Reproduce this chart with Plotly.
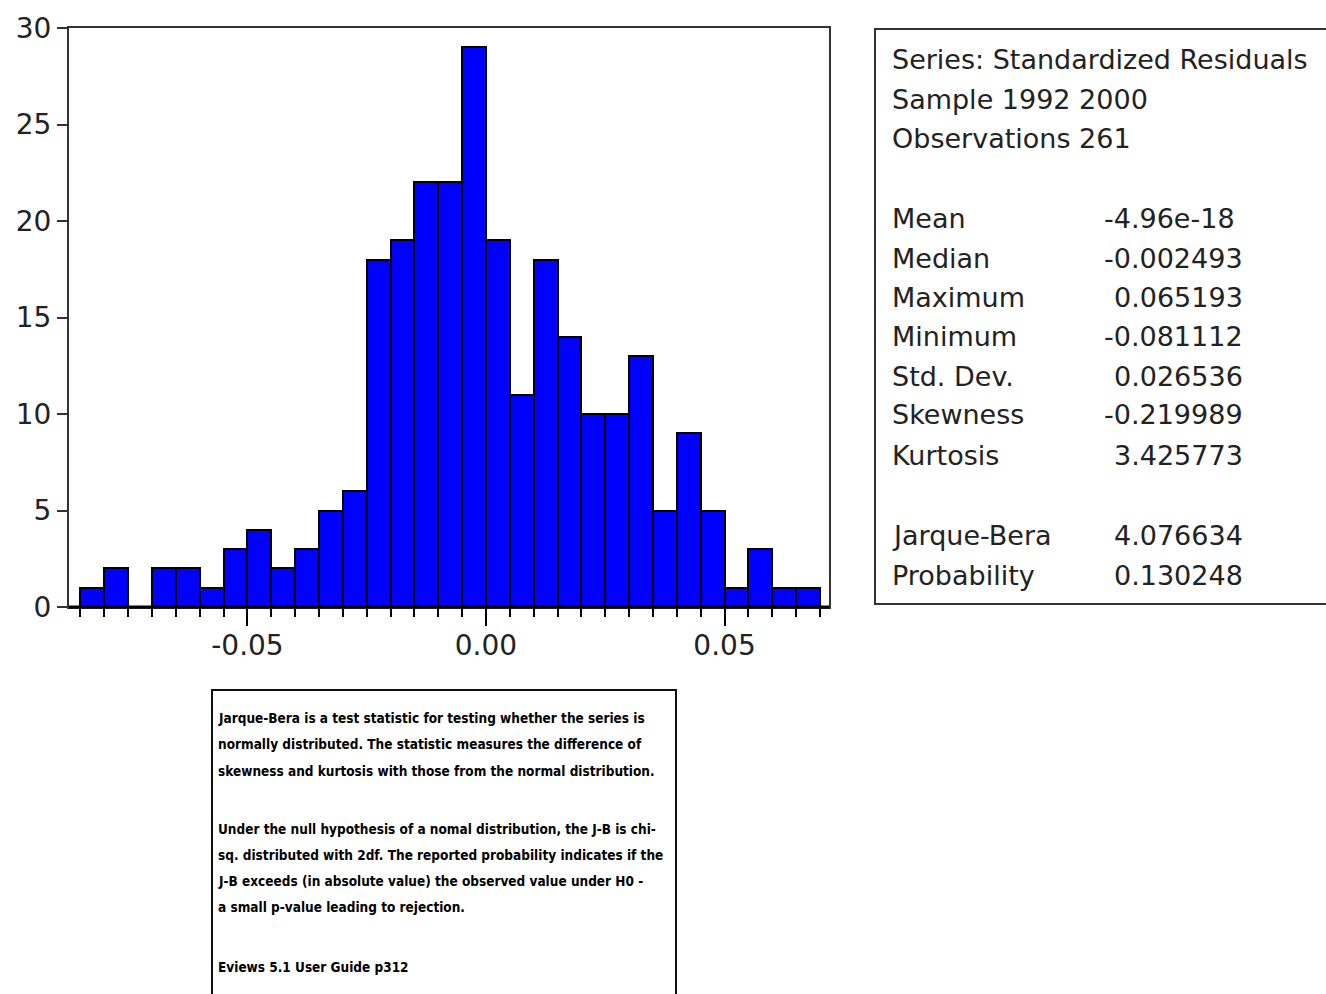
import plotly.graph_objects as go

# ---------------- data ----------------
bin_start = -0.085
bin_width = 0.005
counts = [1, 2, 0, 2, 2, 1, 3, 4, 2, 3, 5, 6, 18, 19, 22, 22, 29, 19, 11, 18,
          14, 10, 10, 13, 5, 9, 5, 1, 3, 1, 1]
y_tick_vals = [0, 5, 10, 15, 20, 25, 30]
x_tick_vals = [-0.05, 0.0, 0.05]
x_tick_text = ["-0.05", "0.00", "0.05"]

stats_header = ["Series: Standardized Residuals", "Sample 1992 2000", "Observations 261"]
stat_names = ["Mean", "Median", "Maximum", "Minimum", "Std. Dev.", "Skewness", "Kurtosis"]
stat_values = ["-4.96e-18", "-0.002493", "0.065193", "-0.081112", "0.026536", "-0.219989", "3.425773"]
test_names = ["Jarque-Bera", "Probability"]
test_values = ["4.076634", "0.130248"]

note_lines = [
    "Jarque-Bera is a test statistic for testing whether the series is",
    "normally distributed. The statistic measures the difference of",
    "skewness and kurtosis with those from the normal distribution.",
    "Under the null hypothesis of a nomal distribution, the J-B is chi-",
    "sq. distributed with 2df. The reported probability indicates if the",
    "J-B exceeds (in absolute value) the observed value under H0 -",
    "a small p-value leading to rejection.",
    "Eviews 5.1 User Guide p312",
]

# ---------------- layout geometry (pixels) ----------------
W, H = 1326, 994
L, R, T, B = 69, 829, 28, 607


def px(x):
    return (x - L) / (R - L)


def py(y):
    return (B - y) / (B - T)


centers = [bin_start + bin_width * (i + 0.5) for i in range(len(counts))]

fig = go.Figure()
fig.add_trace(go.Bar(
    x=centers, y=counts, width=bin_width,
    marker=dict(color="#0000FF", line=dict(color="#000000", width=2)),
    showlegend=False, hoverinfo="x+y",
))

tick_font = dict(family="DejaVu Sans", size=28, color="#222222")

fig.update_layout(
    width=W, height=H,
    margin=dict(l=L, r=W - R, t=T, b=H - B, pad=0),
    paper_bgcolor="white", plot_bgcolor="white",
    bargap=0,
    xaxis=dict(
        range=[-0.0874, 0.0719], showgrid=False, zeroline=False,
        showline=True, mirror=True, linecolor="#333333", linewidth=2,
        ticks="outside", ticklen=17, tickwidth=2, tickcolor="#000000",
        tickvals=x_tick_vals, ticktext=x_tick_text, tickfont=tick_font,
        ticklabelstandoff=-5,
        minor=dict(ticks="outside", dtick=bin_width, tick0=bin_start,
                   ticklen=8, tickwidth=2, tickcolor="#000000", showgrid=False),
    ),
    yaxis=dict(
        range=[0, 30], showgrid=False, zeroline=False,
        showline=True, mirror=True, linecolor="#333333", linewidth=2,
        ticks="outside", ticklen=10, tickwidth=2, tickcolor="#333333",
        tickvals=y_tick_vals, tickfont=tick_font,
    ),
)

# thicker base line
fig.add_shape(type="line", xref="paper", yref="paper", x0=0, x1=1, y0=0, y1=0,
              line=dict(color="#000000", width=3))

# ---------------- statistics box ----------------
fig.add_shape(type="rect", xref="paper", yref="paper",
              x0=px(875), x1=px(1345), y0=py(29), y1=py(604),
              line=dict(color="#333333", width=2), fillcolor="rgba(0,0,0,0)")

stat_font = dict(family="DejaVu Sans", size=27, color="#222222")
header_y = [59, 99, 138]
stat_y = [218, 258, 297, 336, 376, 415, 455]
test_y = [535, 575]

for txt, yy in zip(stats_header, header_y):
    fig.add_annotation(x=px(890), y=py(yy), xref="paper", yref="paper",
                       text=txt, showarrow=False, xanchor="left", yanchor="middle",
                       font=stat_font)

for names, vals, ys in ((stat_names, stat_values, stat_y), (test_names, test_values, test_y)):
    for n, v, yy in zip(names, vals, ys):
        fig.add_annotation(x=px(890), y=py(yy), xref="paper", yref="paper",
                           text=n, showarrow=False, xanchor="left", yanchor="middle",
                           font=stat_font)
        vx = 1102 if v.startswith("-") else 1112
        fig.add_annotation(x=px(vx), y=py(yy), xref="paper", yref="paper",
                           text=v, showarrow=False, xanchor="left", yanchor="middle",
                           font=stat_font)

# ---------------- note box ----------------
fig.add_shape(type="rect", xref="paper", yref="paper",
              x0=px(212), x1=px(676), y0=py(690), y1=py(1010),
              line=dict(color="#111111", width=2), fillcolor="rgba(0,0,0,0)")

note_font = dict(family="DejaVu Sans Condensed, sans-serif",
                 size=13.5, color="#000000", weight="bold")
note_y = [718, 744, 771, 829, 855, 881, 907, 967]
for txt, yy in zip(note_lines, note_y):
    fig.add_annotation(x=px(216), y=py(yy), xref="paper", yref="paper",
                       text=txt, showarrow=False, xanchor="left", yanchor="middle",
                       font=note_font)

fig.write_html("out.html")
